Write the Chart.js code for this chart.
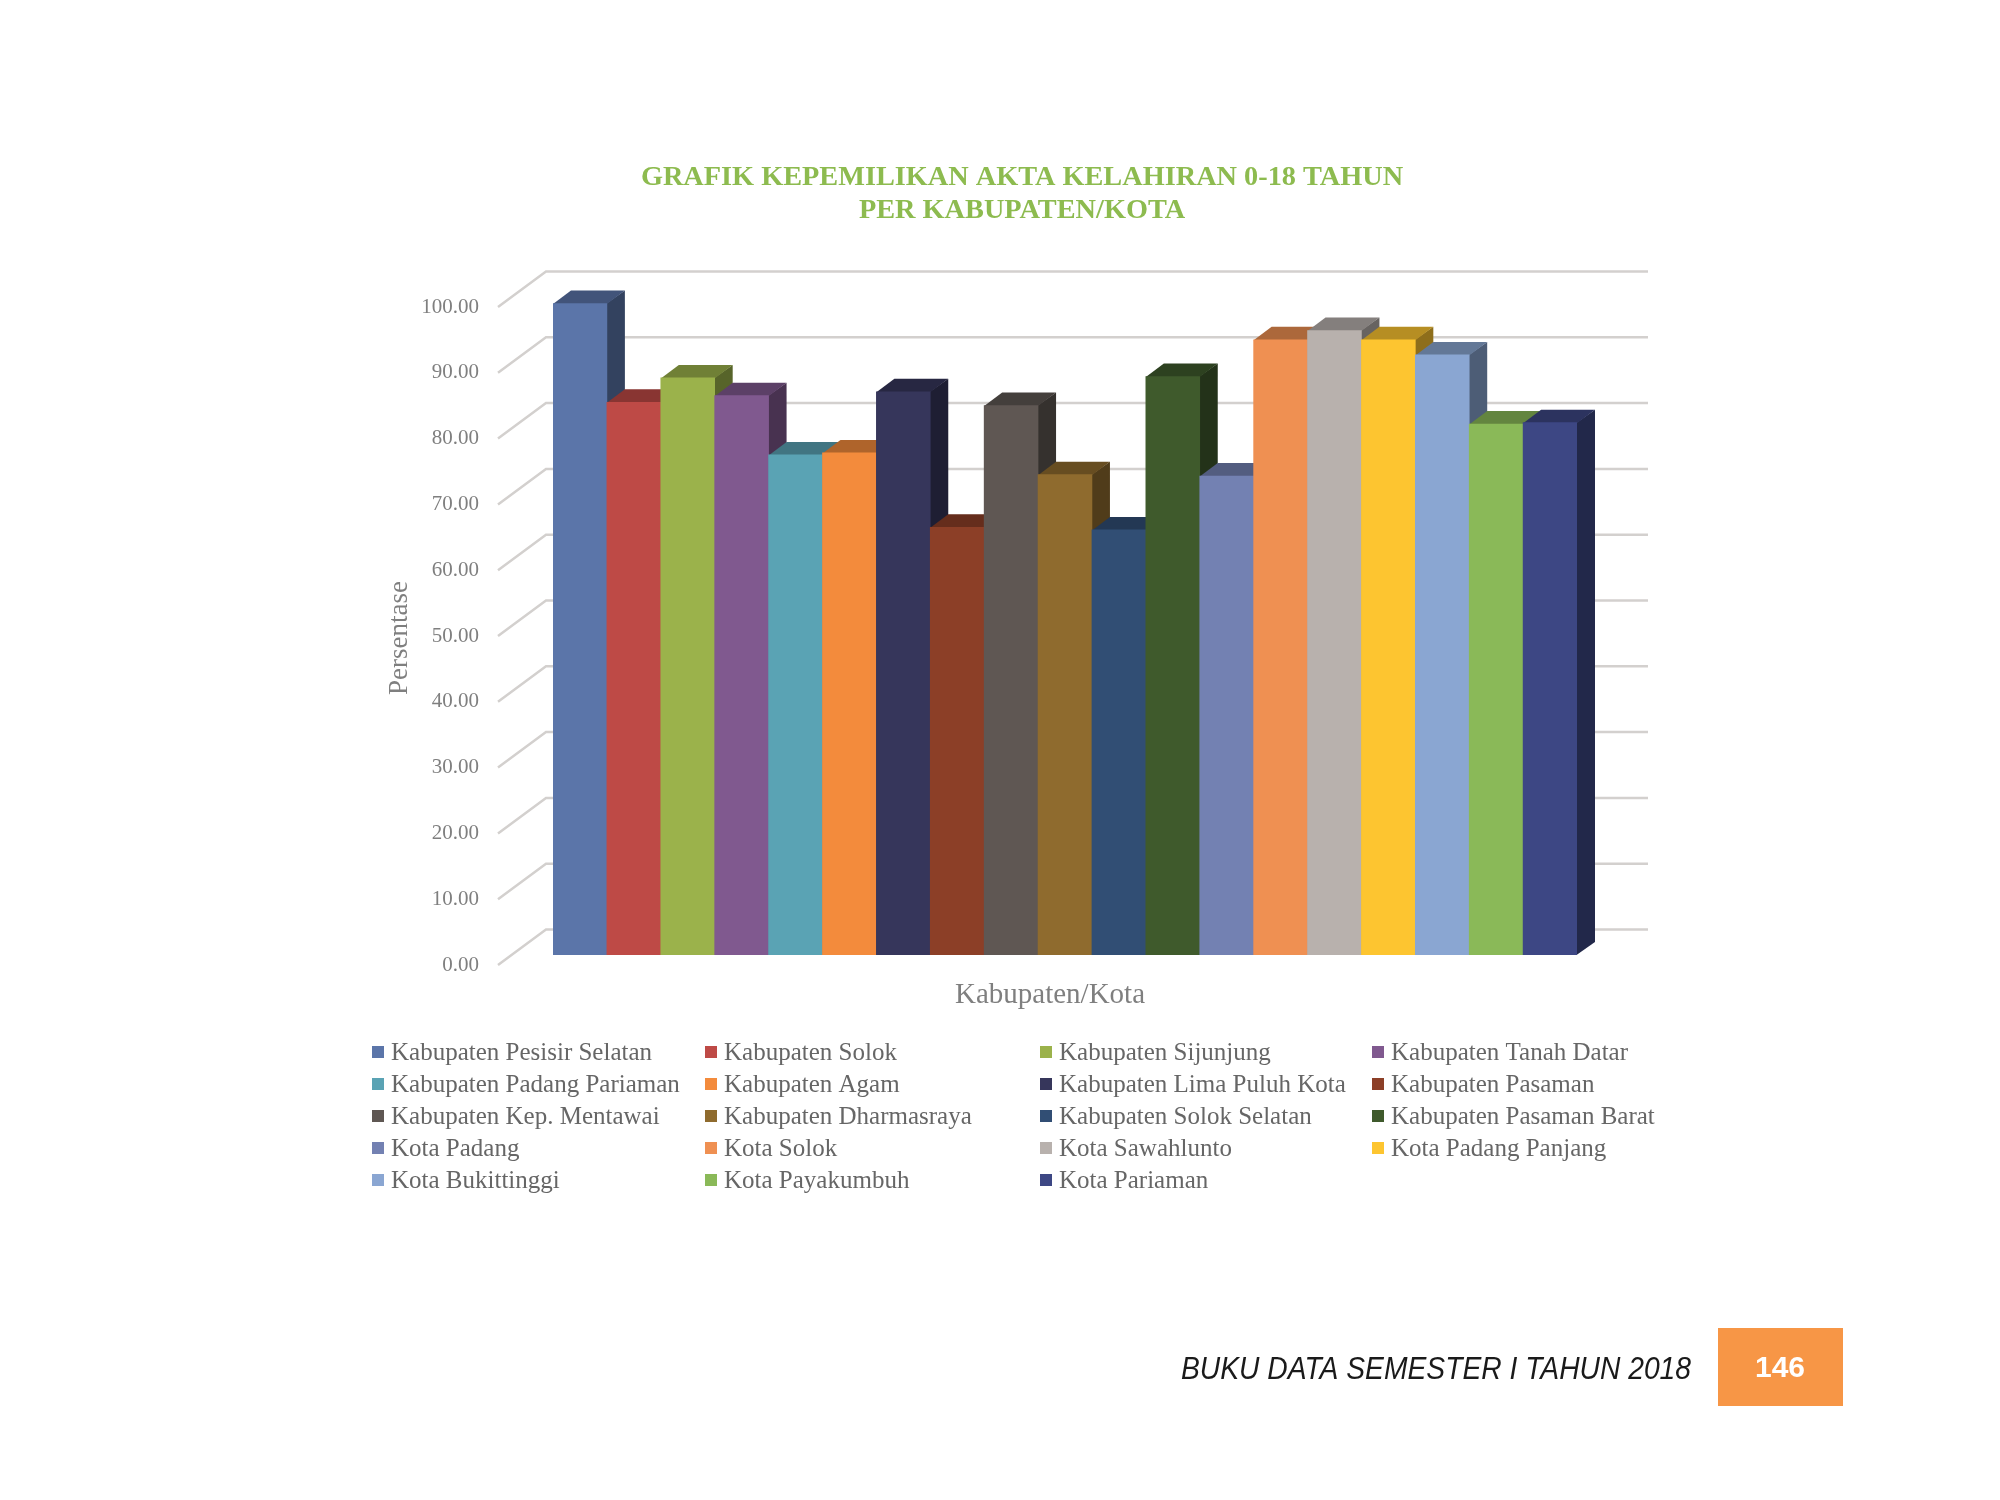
<!DOCTYPE html>
<html>
  <head>
    <title>Grafik Kepemilikan Akta Kelahiran 0-18 Tahun</title>
    <style>
      body { margin: 0; background: #fff; }
      canvas { display: block; }
    </style>
  </head>
  <body>
    <canvas id="canvas" width="2000" height="1500"></canvas>

    <script src="https://cdn.jsdelivr.net/npm/chart.js@4.4.1/dist/chart.umd.min.js"></script>
    <script>
      // data
      const categories = [
        "Kabupaten Pesisir Selatan", "Kabupaten Solok", "Kabupaten Sijunjung", "Kabupaten Tanah Datar",
        "Kabupaten Padang Pariaman", "Kabupaten Agam", "Kabupaten Lima Puluh Kota", "Kabupaten Pasaman",
        "Kabupaten Kep. Mentawai", "Kabupaten Dharmasraya", "Kabupaten Solok Selatan", "Kabupaten Pasaman Barat",
        "Kota Padang", "Kota Solok", "Kota Sawahlunto", "Kota Padang Panjang",
        "Kota Bukittinggi", "Kota Payakumbuh", "Kota Pariaman",
      ];
      const values = [
        99.0, 84.0, 87.7, 85.0, 76.0, 76.3, 85.6, 65.0, 83.5, 73.0,
        64.6, 87.9, 72.8, 93.5, 94.9, 93.5, 91.2, 80.7, 80.9,
      ];
      const barColors = [
        "#5b75a9", "#be4a46", "#9bb24b", "#80598f", "#5aa3b4", "#f38b3c", "#36365b",
        "#8c3f27", "#5f5753", "#8f6b2e", "#314e74", "#3f5a2c", "#7381b2", "#ef9052",
        "#b8b1ad", "#fdc530", "#8aa6d2", "#8ab958", "#3d4784",
      ];
      const yTicks = [0, 10, 20, 30, 40, 50, 60, 70, 80, 90, 100];
      const titleLines = ["GRAFIK KEPEMILIKAN AKTA KELAHIRAN 0-18 TAHUN", "PER KABUPATEN/KOTA"];
      const yTitle = "Persentase";
      const xTitle = "Kabupaten/Kota";
      const footerText = "BUKU DATA SEMESTER I TAHUN 2018";
      const pageNumber = "146";

      // 3d look
      const DX = 18, DY = 13; // bar depth
      const WALL_DY = 25.5;   // back wall behind bar plane
      const FRONT_DY = 10;    // label plane in front of bars

      function shade(hex, k) {
        const n = parseInt(hex.slice(1), 16);
        const r = Math.round(((n >> 16) & 255) * k);
        const g = Math.round(((n >> 8) & 255) * k);
        const b = Math.round((n & 255) * k);
        return "rgb(" + r + "," + g + "," + b + ")";
      }

      const wall3d = {
        id: "wall3d",
        beforeDatasetsDraw(chart) {
          const { ctx, chartArea: a } = chart;
          const y = chart.scales.y;
          ctx.save();
          // gridlines: slanted at the left, flat on the back wall
          ctx.strokeStyle = "#d3d0ce";
          ctx.lineWidth = 2.5;
          yTicks.forEach((v) => {
            const py = y.getPixelForValue(v);
            ctx.beginPath();
            ctx.moveTo(a.left - 55, py + FRONT_DY);
            ctx.lineTo(a.left - 7, py - WALL_DY);
            ctx.lineTo(a.right + 71, py - WALL_DY);
            ctx.stroke();
          });

          // side + top faces, left to right so later bars cover earlier ones
          const meta = chart.getDatasetMeta(0);
          meta.data.forEach((bar, i) => {
            const p = bar.getProps(["x", "y", "base", "width"], true);
            const l = p.x - p.width / 2, r = p.x + p.width / 2;
            ctx.fillStyle = shade(barColors[i], 0.56);
            ctx.beginPath();
            ctx.moveTo(r - 0.5, p.y);
            ctx.lineTo(r + DX, p.y - DY);
            ctx.lineTo(r + DX, p.base - DY);
            ctx.lineTo(r - 0.5, p.base);
            ctx.closePath();
            ctx.fill();

            ctx.fillStyle = shade(barColors[i], 0.72);
            ctx.beginPath();
            ctx.moveTo(l, p.y + 0.5);
            ctx.lineTo(l + DX, p.y - DY);
            ctx.lineTo(r + DX, p.y - DY);
            ctx.lineTo(r, p.y + 0.5);
            ctx.closePath();
            ctx.fill();
          });
          ctx.restore();
        },

        afterDraw(chart) {
          const { ctx, chartArea: a } = chart;
          const y = chart.scales.y;
          ctx.save();

          // title
          ctx.fillStyle = "#8dbb4f";
          ctx.font = 'bold 28.3px "Liberation Serif"';
          ctx.textAlign = "center";
          ctx.textBaseline = "middle";
          titleLines.forEach((t, i) => ctx.fillText(t, 1022, 178 + i * 33));

          // y tick labels on the front plane
          ctx.fillStyle = "#7f7f7f";
          ctx.font = '21px "Liberation Serif"';
          ctx.textAlign = "right";
          yTicks.forEach((v) => {
            ctx.fillText(v.toFixed(2), a.left - 74, y.getPixelForValue(v) + FRONT_DY);
          });

          // axis titles
          ctx.font = '27px "Liberation Serif"';
          ctx.textAlign = "center";
          ctx.save();
          ctx.translate(400, 638);
          ctx.rotate(-Math.PI / 2);
          ctx.fillText(yTitle, 0, 0);
          ctx.restore();
          ctx.font = '29px "Liberation Serif"';
          ctx.fillText(xTitle, 1050, 995);

          // legend, 4 columns
          const colX = [372, 705, 1040, 1372];
          ctx.font = '25px "Liberation Serif"';
          ctx.textAlign = "left";
          categories.forEach((name, i) => {
            const cx = colX[i % 4];
            const cy = 1052 + Math.floor(i / 4) * 32;
            ctx.fillStyle = barColors[i];
            ctx.fillRect(cx, cy - 6, 12, 12);
            ctx.fillStyle = "#666666";
            ctx.fillText(name, cx + 19, cy + 1);
          });

          // footer
          ctx.fillStyle = "#1a1a1a";
          ctx.font = 'italic 32px "Liberation Sans"';
          const w = ctx.measureText(footerText).width;
          ctx.save();
          ctx.translate(1181, 1370);
          ctx.scale(510 / w, 1);
          ctx.fillText(footerText, 0, 0);
          ctx.restore();

          ctx.fillStyle = "#f79646";
          ctx.fillRect(1718, 1328, 125, 78);
          ctx.fillStyle = "#ffffff";
          ctx.font = 'bold 30px "Liberation Sans"';
          ctx.textAlign = "center";
          ctx.fillText(pageNumber, 1780, 1369);

          ctx.restore();
        },
      };

      const config = {
        type: "bar",
        data: {
          labels: categories,
          datasets: [
            {
              label: "Persentase",
              data: values,
              backgroundColor: barColors,
              borderWidth: 0,
              barPercentage: 1,
              categoryPercentage: 1,
            },
          ],
        },
        options: {
          responsive: false,
          animation: false,
          layout: { padding: { left: 553, right: 423, top: 297, bottom: 545 } },
          scales: {
            x: { display: false },
            y: { display: false, min: 0, max: 100 },
          },
          plugins: {
            legend: { display: false },
            tooltip: { enabled: false },
          },
        },
        plugins: [wall3d],
      };

      const ctx = document.getElementById("canvas").getContext("2d");
      const chart = new Chart(ctx, config);
    </script>
  </body>
</html>
